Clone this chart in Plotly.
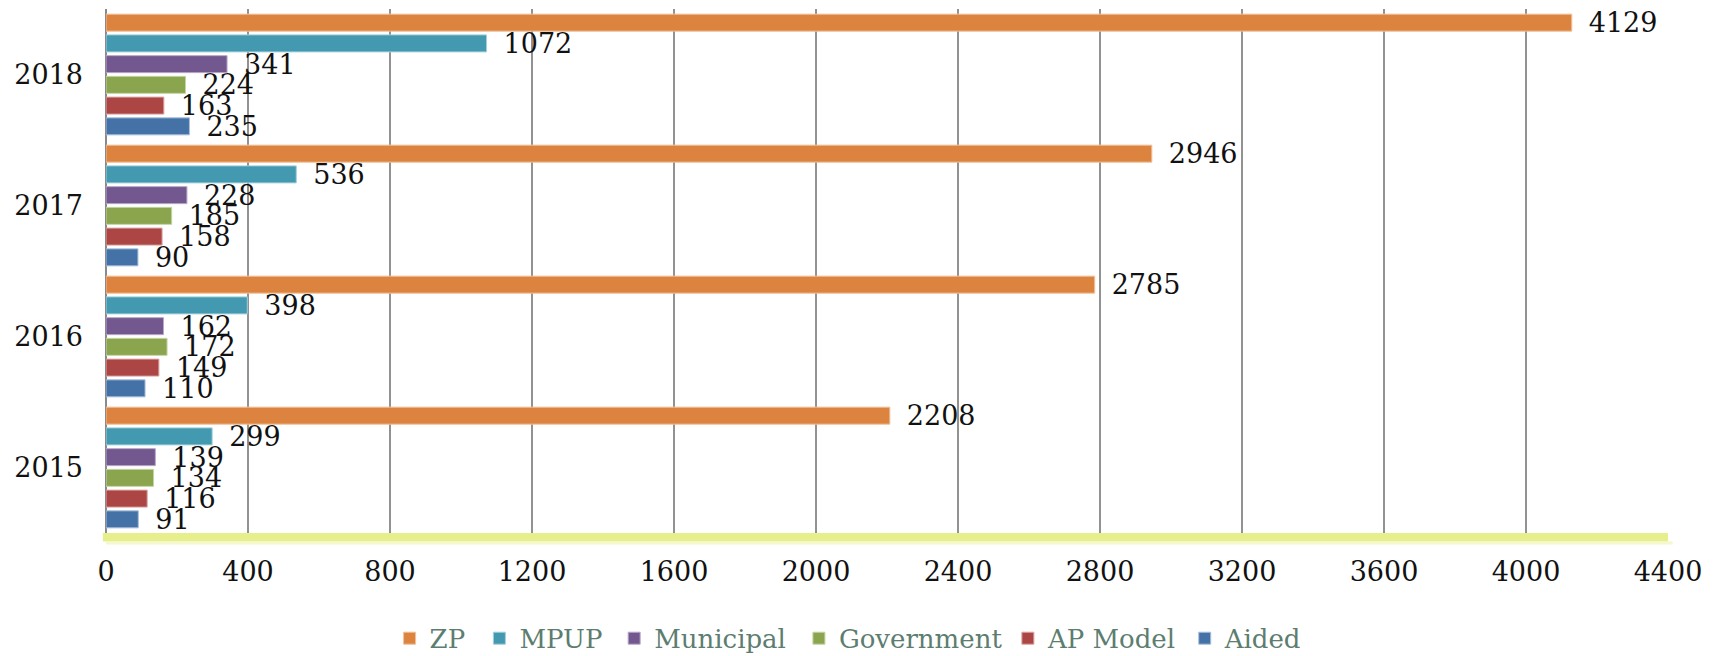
import plotly.graph_objects as go

years = ["2015", "2016", "2017", "2018"]
series_names = ["Aided", "AP Model", "Government", "Municipal", "MPUP", "ZP"]
aided = [91, 110, 90, 235]
ap_model = [116, 149, 158, 163]
government = [134, 172, 185, 224]
municipal = [139, 162, 228, 341]
mpup = [299, 398, 536, 1072]
zp = [2208, 2785, 2946, 4129]
x_ticks = [0, 400, 800, 1200, 1600, 2000, 2400, 2800, 3200, 3600, 4000, 4400]

values = [aided, ap_model, government, municipal, mpup, zp]
colors = ["#4471a6", "#ab4644", "#8ba54e", "#72588e", "#4399b0", "#dc843f"]
edge = ["#a9bfdc", "#dba6a5", "#c4d4a6", "#b8a9c9", "#a3cfdb", "#f0c09a"]
# legend item positions (fraction of page width), one legend box per series
legend_x = [0.690, 0.5870, 0.4653, 0.3577, 0.2792, 0.2269]

FONT = "DejaVu Serif"

fig = go.Figure()
layout_legends = {}
for i, (name, vals, col, ec) in enumerate(zip(series_names, values, colors, edge)):
    lname = "legend" if i == 0 else f"legend{i+1}"
    fig.add_trace(go.Bar(
        y=years, x=vals, name=name, orientation="h",
        marker=dict(color=col, line=dict(color=ec, width=1)),
        text=vals, texttemplate="\u00a0\u2009%{x}", textposition="outside",
        constraintext="none", cliponaxis=False,
        textfont=dict(family=FONT, size=27, color="#111111"),
        legend=lname,
    ))
    layout_legends[lname] = dict(
        orientation="h", xref="container", x=legend_x[i], xanchor="left",
        yref="container", y=0.027, yanchor="middle",
        font=dict(family=FONT, size=26, color="#5c7d70"),
        itemwidth=30, bgcolor="rgba(0,0,0,0)",
    )

fig.update_layout(
    barmode="group", bargap=0.05, bargroupgap=0.18,
    width=1717, height=656,
    margin=dict(l=106, r=49, t=9, b=123, autoexpand=False),
    paper_bgcolor="white", plot_bgcolor="white",
    font=dict(family=FONT, color="#111111"),
    showlegend=True,
    **layout_legends,
)
fig.update_xaxes(range=[0, 4400], tickvals=x_ticks, ticktext=[str(v) for v in x_ticks],
                 showgrid=True, gridcolor="#929292", gridwidth=2,
                 zeroline=True, zerolinecolor="#8a8a8a", zerolinewidth=2,
                 showline=False, ticks="", ticklabelstandoff=20,
                 tickfont=dict(family=FONT, size=27, color="#111111"))
fig.update_yaxes(type="category", categoryorder="array", categoryarray=years,
                 showgrid=False, zeroline=False, showline=False, ticks="",
                 ticklabelstandoff=22,
                 tickfont=dict(family=FONT, size=27, color="#111111"))

# yellow-green glow along bottom axis
fig.add_shape(type="rect", xref="x domain", yref="y domain", x0=-0.002, x1=1.0, y0=-0.016, y1=0,
              fillcolor="#e7ef8c", line=dict(width=0), layer="below")
fig.add_shape(type="rect", xref="x domain", yref="y domain", x0=0.0, x1=1.003, y0=-0.022, y1=-0.016,
              fillcolor="#f4f8cc", line=dict(width=0), layer="below")

fig.write_html("out.html", config={"displayModeBar": False},
               post_script="document.body.style.margin='0';")
